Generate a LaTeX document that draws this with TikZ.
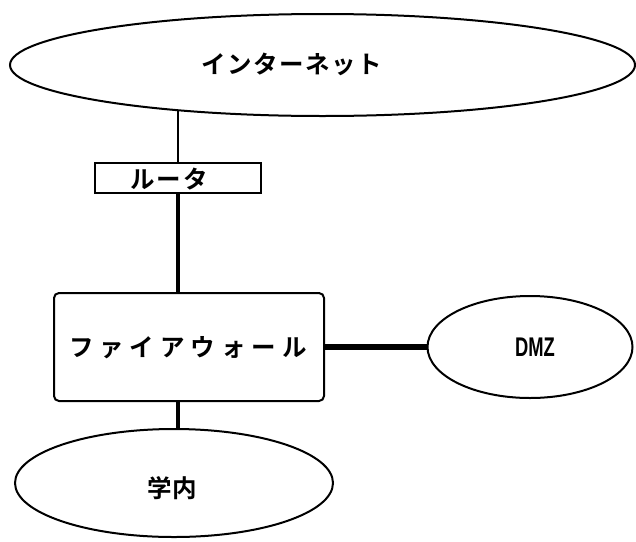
\documentclass[tikz,border=0pt]{standalone}
\usepackage{fontspec}
\newfontfamily\jp{Noto Sans CJK JP}[BoldFont={Noto Sans CJK JP Bold}]
\newfontfamily\lat{Liberation Sans}
\usetikzlibrary{shapes.geometric,backgrounds}
\tikzset{
  outline/.style={draw=black,line width=2pt,fill=white,inner sep=0pt},
  oval/.style={outline,ellipse},
  boxn/.style={outline,rectangle},
  thinlink/.style={draw=black,line width=1.2pt},
  thicklink/.style={draw=black,line width=4.6pt},
  txt/.style={inner sep=0pt,font=\jp\bfseries\fontsize{24.5}{24.5}\selectfont},
}
\begin{document}
\begin{tikzpicture}[x=1pt,y=-1pt]
\useasboundingbox (0,0) rectangle (636,541);
\node[oval,minimum width=625,minimum height=102] (inet) at (322.5,65) {};
\node[txt] (inetlabel) at (292,64) {イ\kern1.5ptン\kern1.5ptタ\kern1.5ptー\kern1.5ptネ\kern1.5ptッ\kern1.5ptト};
\node[boxn,minimum width=166,minimum height=30] (router) at (178,178) {};
\node[txt] (routerlabel) at (169,179) {ル\kern2ptー\kern2ptタ};
\node[outline,rectangle,rounded corners=5pt,minimum width=270,minimum height=108] (fw) at (189,347) {};
\node[txt] (fwlabel) at (188,348) {フ\kern6ptァ\kern6ptイ\kern6ptア\kern6ptウ\kern6ptォ\kern6ptー\kern6ptル};
\node[oval,minimum width=205,minimum height=102] (dmz) at (530,347) {};
\node[inner sep=0pt] (dmzlabel) at (535,347) {\scalebox{0.68}[1]{\lat\bfseries\fontsize{27}{27}\selectfont DMZ}};
\node[oval,minimum width=318,minimum height=108] (campus) at (174,483) {};
\node[txt] (campuslabel) at (172,488) {学\kern1pt内};
\begin{scope}[on background layer]
\draw[thinlink] (router.north) -- (router.north |- inet.center);
\draw[thicklink] (router.south) -- (router.south |- fw.center);
\draw[thicklink] (router.south |- fw.center) -- (router.south |- campus.center);
\end{scope}
\draw[line width=5.5pt] (fw.east) -- (dmz.west);
\end{tikzpicture}
\end{document}
